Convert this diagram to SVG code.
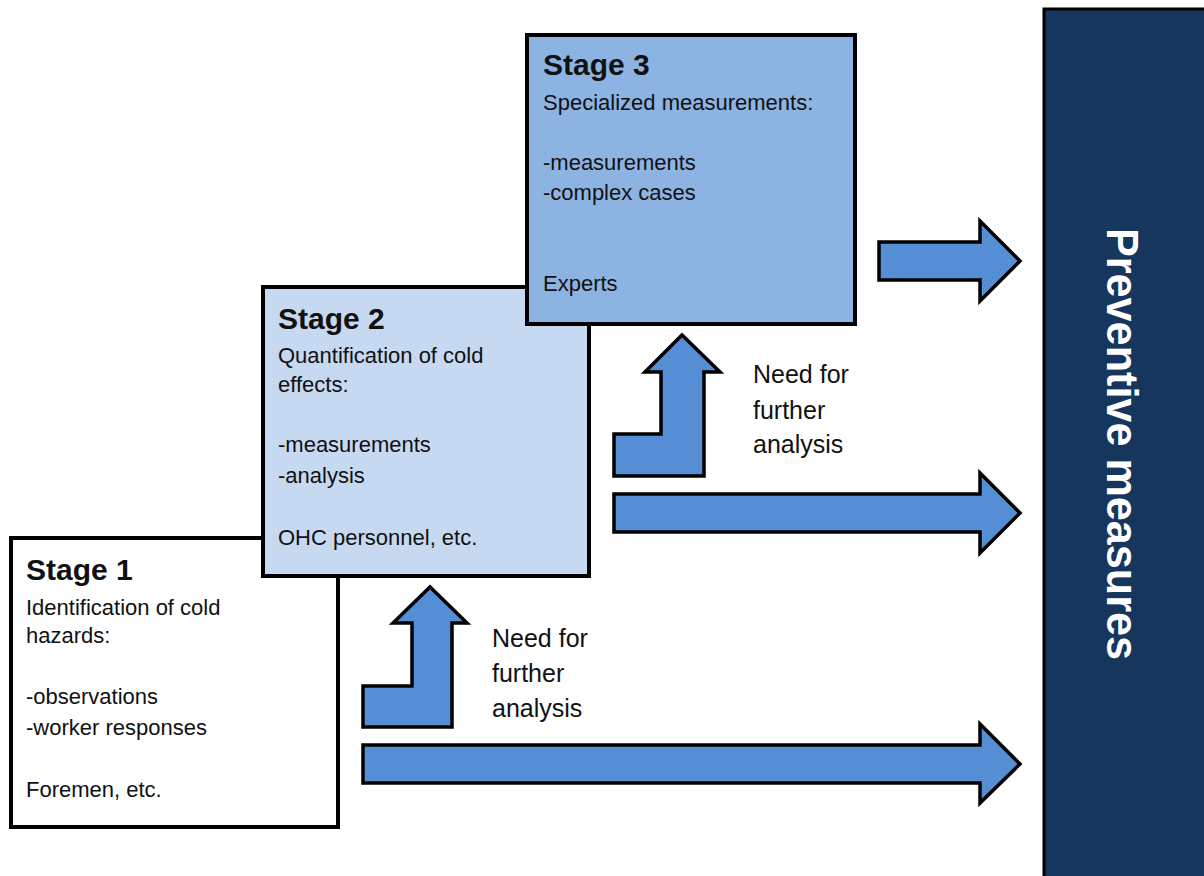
<svg xmlns="http://www.w3.org/2000/svg" width="1204" height="876" viewBox="0 0 1204 876">
  <style>
    .box { stroke: #000; stroke-width: 4; }
    .arrow { fill: #558ED5; stroke: #000; stroke-width: 3.5; stroke-linejoin: miter; }
    .title { font-family: "Liberation Sans", Arial, sans-serif; font-weight: bold; font-size: 30px; fill: #111; }
    .body { font-family: "Liberation Sans", Arial, sans-serif; font-size: 22px; fill: #111; }
    .note { font-family: "Liberation Sans", Arial, sans-serif; font-size: 25px; fill: #111; }
    .side { font-family: "Liberation Sans", Arial, sans-serif; font-weight: bold; font-size: 44px; fill: #fff; }
  </style>
  <rect width="1204" height="876" fill="#fff"/>

  <!-- Outcome panel -->
  <g id="preventive">
    <rect x="1044" y="9" width="175" height="880" fill="#17365D" stroke="#000" stroke-width="3"/>
    <text class="side" transform="translate(1107,444) rotate(90)" text-anchor="middle" textLength="432" lengthAdjust="spacingAndGlyphs">Preventive measures</text>
  </g>

  <!-- Block arrows -->
  <g id="connectors">
    <path class="arrow" d="M363,745 L980,745 L980,724 L1020,764 L980,803 L980,783 L363,783 Z"/>
    <path class="arrow" d="M614,494 L980,494 L980,473 L1020,513 L980,553 L980,532 L614,532 Z"/>
    <path class="arrow" d="M879,242 L980,242 L980,221 L1020,261 L980,301 L980,280 L879,280 Z"/>
    <path class="arrow" d="M363,727 L452,727 L452,623 L467,623 L430,587 L393,623 L412,623 L412,686 L363,686 Z"/>
    <path class="arrow" d="M614,476 L704,476 L704,372 L720,372 L682,335 L645,372 L661,372 L661,434 L614,434 Z"/>
  </g>

  <g id="label-1">
    <text class="note" x="492" y="647">Need for</text>
    <text class="note" x="492" y="682">further</text>
    <text class="note" x="492" y="717">analysis</text>
  </g>
  <g id="label-2">
    <text class="note" x="753" y="383">Need for</text>
    <text class="note" x="753" y="419">further</text>
    <text class="note" x="753" y="453">analysis</text>
  </g>

  <!-- Stage boxes, later stages drawn over earlier ones -->
  <g id="stage1">
    <rect class="box" x="11" y="538" width="327" height="289" fill="#fff"/>
    <text class="title" x="26" y="580">Stage 1</text>
    <text class="body" x="26" y="615">Identification of cold</text>
    <text class="body" x="26" y="643">hazards:</text>
    <text class="body" x="26" y="704">-observations</text>
    <text class="body" x="26" y="735">-worker responses</text>
    <text class="body" x="26" y="797">Foremen, etc.</text>
  </g>

  <g id="stage2">
    <rect class="box" x="263" y="287" width="326" height="289" fill="#C6D9F1"/>
    <text class="title" x="278" y="329">Stage 2</text>
    <text class="body" x="278" y="363">Quantification of cold</text>
    <text class="body" x="278" y="392">effects:</text>
    <text class="body" x="278" y="452">-measurements</text>
    <text class="body" x="278" y="483">-analysis</text>
    <text class="body" x="278" y="545">OHC personnel, etc.</text>
  </g>

  <g id="stage3">
    <rect class="box" x="527" y="35" width="328" height="289" fill="#8DB3E2"/>
    <text class="title" x="543" y="75">Stage 3</text>
    <text class="body" x="543" y="110">Specialized measurements:</text>
    <text class="body" x="543" y="170">-measurements</text>
    <text class="body" x="543" y="200">-complex cases</text>
    <text class="body" x="543" y="291">Experts</text>
  </g>
</svg>
